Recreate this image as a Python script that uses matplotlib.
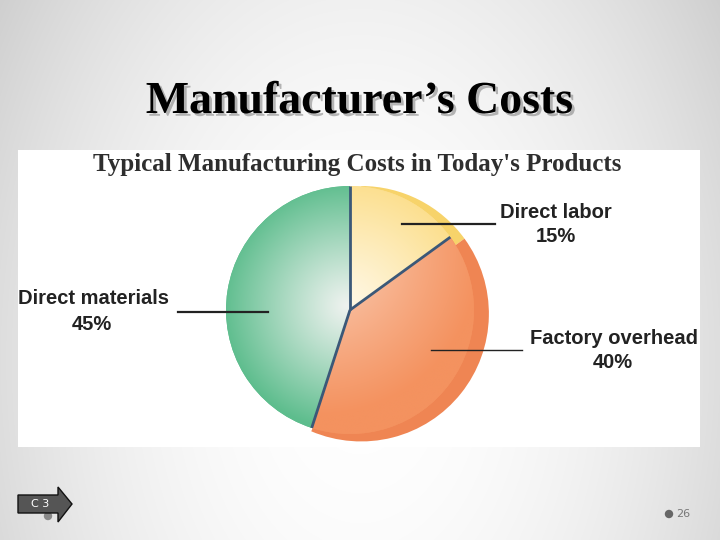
import matplotlib.pyplot as plt
import matplotlib.patheffects as pe
from matplotlib.colors import to_rgb
from matplotlib.patches import Rectangle, Polygon, Circle
import numpy as np

# data
categories = ["Direct labor", "Factory overhead", "Direct materials"]
shares = [15, 40, 45]
base_colors = ["#fcdf8e", "#f4925f", "#5dbd8d"]
rim_colors = ["#f7d36a", "#ef8553", "none"]
light_colors = ["#fff8e6", "#fcd9c6", "#eef2ef"]

fig = plt.figure(figsize=(7.2, 5.4), dpi=100)

# slide background (pixel coordinates)
bg = fig.add_axes([0, 0, 1, 1])
bg.set_xlim(0, 720)
bg.set_ylim(540, 0)
bg.axis("off")
yy, xx = np.mgrid[0:540, 0:720]
d = np.sqrt(((xx - 360) / 400.0) ** 2 + ((yy - 360) / 600.0) ** 2)
g = 1.0 - 0.16 * np.clip(d, 0, 1.3) ** 2
bg.imshow(np.dstack([g, g, g]), extent=(0, 720, 540, 0), zorder=0)

bg.text(360, 102, "Manufacturer\u2019s Costs", ha="center", va="center",
        fontsize=33, fontweight="bold", family="Liberation Serif", color="black",
        path_effects=[pe.withSimplePatchShadow(offset=(2, -2), shadow_rgbFace="#888888", alpha=0.6)])

bg.add_patch(Rectangle((18, 150), 682, 297, facecolor="white", edgecolor="none", zorder=1))
bg.text(357, 164, "Typical Manufacturing Costs in Today's Products", ha="center", va="center",
        fontsize=18, fontweight="bold", family="Liberation Serif", color="#2e2e2e", zorder=3)

# footer: arrow and page number
bg.add_patch(Polygon([(18, 495), (58, 495), (58, 487), (72, 504), (58, 522), (58, 513), (18, 513)],
                     closed=True, facecolor="#555555", edgecolor="#111111", lw=1, zorder=3))
bg.add_patch(Circle((48, 516), 3.5, color="#888888", zorder=2))
bg.text(40, 504, "C 3", ha="center", va="center", fontsize=8, color="white", zorder=4)
bg.add_patch(Circle((669, 514), 3.5, color="#666666", zorder=2))
bg.text(676, 514, "26", ha="left", va="center", fontsize=8, color="#777777", zorder=4)

# pie
cx, cy, r = 350, 310, 124
half = 1.2
ax = fig.add_axes([(cx - r * half) / 720, (540 - cy - r * half) / 540,
                   2 * r * half / 720, 2 * r * half / 540])

# 3D rim, a shifted copy of the pie underneath
rim_wedges, _ = ax.pie(shares, startangle=90, counterclock=False, colors=rim_colors, radius=1.03,
                       center=(0.09, -0.03), wedgeprops=dict(edgecolor="none"), frame=True)
rim_wedges[1].set_theta1(rim_wedges[1].theta1 - 5)
wedges, _ = ax.pie(shares, startangle=90, counterclock=False, colors=base_colors,
                   wedgeprops=dict(edgecolor="none"), radius=1.0, frame=True)
ax.set_xlim(-half, half)
ax.set_ylim(-half, half)
ax.set_aspect("equal")
ax.axis("off")

n = 400
gy, gx = np.mgrid[1.05:-1.05:n * 1j, -1.05:1.05:n * 1j]
for i, w in enumerate(wedges):
    base = np.array(to_rgb(base_colors[i]))
    light = np.array(to_rgb(light_colors[i]))
    if i == 1:
        t = np.clip(np.sqrt((gx + 0.25) ** 2 + (gy - 0.45) ** 2) / 1.3, 0, 1) ** 0.8
    else:
        t = np.clip(np.sqrt((gx + 0.03) ** 2 + (gy - 0.03) ** 2), 0, 1) ** 1.1
    rgb = light[None, None, :] * (1 - t[..., None]) + base[None, None, :] * t[..., None]
    img = ax.imshow(rgb, extent=(-1.05, 1.05, -1.05, 1.05), zorder=2)
    img.set_clip_path(w)

# slice borders from cumulative shares
bounds = 90 - 360 * np.cumsum([0] + shares[:-1]) / sum(shares)
for a in bounds:
    ang = np.deg2rad(a)
    ax.plot([0, np.cos(ang)], [0, np.sin(ang)], color="#3b5878", lw=2, zorder=3,
            solid_capstyle="butt")

# overlay: leader lines and labels
fg = fig.add_axes([0, 0, 1, 1])
fg.set_xlim(0, 720)
fg.set_ylim(540, 0)
fg.axis("off")
fg.plot([402, 495], [224, 224], color="#222222", lw=1.6)
fg.plot([178, 268], [312, 312], color="#222222", lw=1.6)
fg.plot([431, 522], [350, 350], color="#222222", lw=1.0)
lab = dict(fontsize=14.5, fontweight="bold", family="Liberation Sans", color="#222222", va="center")
fg.text(500, 212, categories[0], ha="left", **lab)
fg.text(556, 237, f"{shares[0]}%", ha="center", **lab)
fg.text(530, 338, categories[1], ha="left", **lab)
fg.text(613, 363, f"{shares[1]}%", ha="center", **lab)
fg.text(18, 298, categories[2], ha="left", **lab)
fg.text(92, 324, f"{shares[2]}%", ha="center", **lab)

fig.savefig("out.png", dpi=100)
